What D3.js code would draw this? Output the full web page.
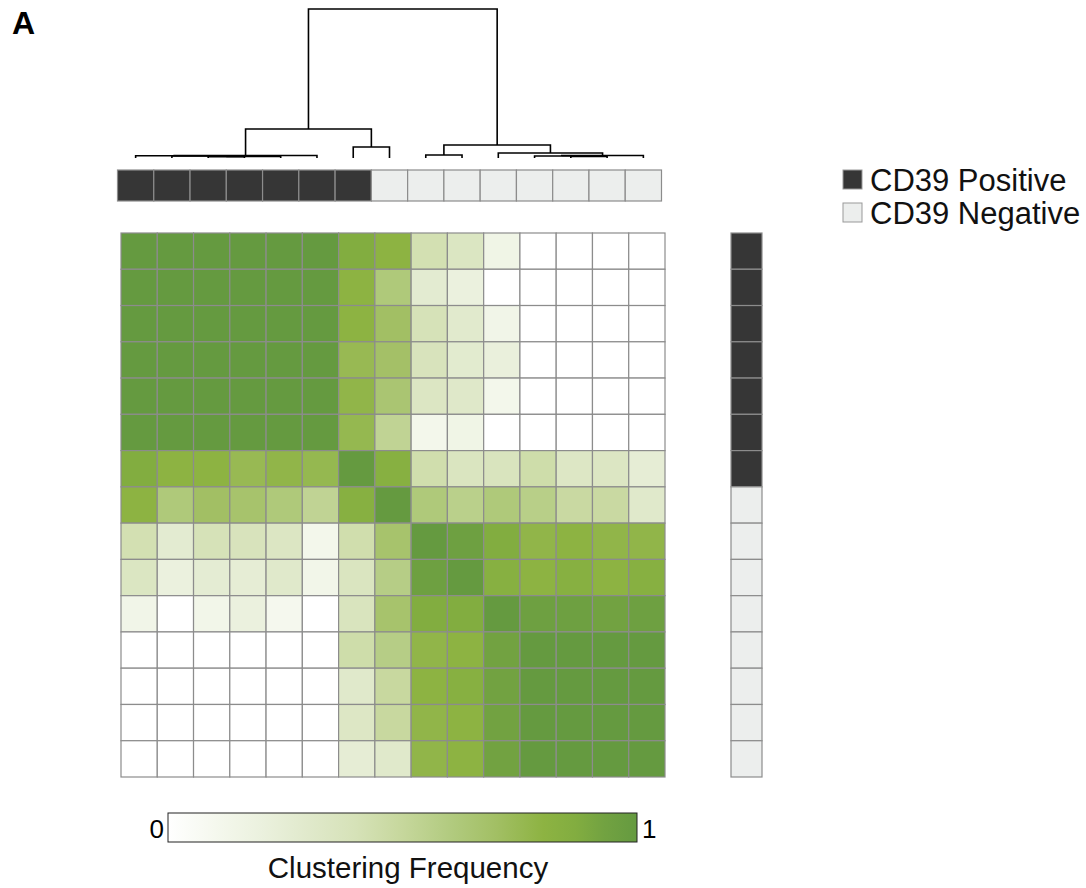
<!DOCTYPE html>
<meta charset="utf-8">
<style>
body { margin: 0; background: #fff; font-family: "Liberation Sans", Arial, Helvetica, sans-serif; }
.cell { stroke: #8c8c8c; stroke-width: 1.2; }
.link { fill: none; stroke: #000; stroke-width: 1.6; }
.lbl { font-size: 29.5px; fill: #111; }
.leg-lbl { font-size: 31px; fill: #111; }
</style>
<body>
<script src="https://cdnjs.cloudflare.com/ajax/libs/d3/7.8.5/d3.min.js"></script>
<script>

// samples, in dendrogram order
var samples = d3.range(15);
// CD39 status for each sample (same order)
var cd39 = ["pos","pos","pos","pos","pos","pos","pos","neg","neg","neg","neg","neg","neg","neg","neg"];
var statusLabels = {pos: "CD39 Positive", neg: "CD39 Negative"};

// consensus matrix (clustering frequency), rows top to bottom
var freq = [
  [1.00,1.00,1.00,1.00,1.00,1.00,0.87,0.80,0.42,0.35,0.15,0.00,0.00,0.00,0.00],
  [1.00,1.00,1.00,1.00,1.00,1.00,0.80,0.62,0.27,0.20,0.00,0.00,0.00,0.00,0.00],
  [1.00,1.00,1.00,1.00,1.00,1.00,0.80,0.70,0.40,0.29,0.14,0.00,0.00,0.00,0.00],
  [1.00,1.00,1.00,1.00,1.00,1.00,0.75,0.69,0.38,0.28,0.21,0.00,0.00,0.00,0.00],
  [1.00,1.00,1.00,1.00,1.00,1.00,0.78,0.65,0.34,0.31,0.12,0.00,0.00,0.00,0.00],
  [1.00,1.00,1.00,1.00,1.00,1.00,0.76,0.53,0.12,0.15,0.00,0.00,0.00,0.00,0.00],
  [0.87,0.80,0.80,0.75,0.78,0.76,1.00,0.84,0.44,0.36,0.37,0.45,0.33,0.34,0.25],
  [0.80,0.62,0.70,0.67,0.62,0.53,0.84,1.00,0.62,0.56,0.62,0.57,0.48,0.48,0.30],
  [0.42,0.27,0.40,0.38,0.34,0.12,0.44,0.67,1.00,0.95,0.87,0.78,0.80,0.78,0.78],
  [0.35,0.20,0.26,0.25,0.30,0.13,0.36,0.58,0.95,1.00,0.84,0.80,0.84,0.80,0.84],
  [0.14,0.00,0.13,0.20,0.10,0.00,0.37,0.67,0.87,0.87,1.00,0.95,0.95,0.93,0.95],
  [0.00,0.00,0.00,0.00,0.00,0.00,0.45,0.58,0.78,0.80,0.93,1.00,1.00,1.00,1.00],
  [0.00,0.00,0.00,0.00,0.00,0.00,0.30,0.49,0.80,0.84,0.93,1.00,1.00,1.00,1.00],
  [0.00,0.00,0.00,0.00,0.00,0.00,0.33,0.49,0.78,0.80,0.93,1.00,1.00,1.00,1.00],
  [0.00,0.00,0.00,0.00,0.00,0.00,0.25,0.30,0.78,0.80,0.93,1.00,1.00,1.00,1.00]
];

// linkage: [left, right, height]; ids >= 15 are earlier merges (15 + index)
var merges = [
  [2, 3, 0.009],
  [15, 4, 0.011],
  [1, 16, 0.013],
  [0, 17, 0.015],
  [18, 5, 0.017],
  [6, 7, 0.074],
  [19, 20, 0.195],
  [8, 9, 0.020],
  [12, 13, 0.010],
  [11, 23, 0.013],
  [24, 14, 0.017],
  [10, 25, 0.034],
  [22, 26, 0.087],
  [21, 27, 1.000]
];

// colour stops for clustering frequency
var colorStops = [0, 0.1, 0.2, 0.3, 0.4, 0.5, 0.6, 0.7, 0.8, 0.87, 0.93, 1];
var colorVals = ["#ffffff","#f5f8ee","#ebf1de","#e0e9cb","#d6e2b8","#c6d79c","#b2cb80","#a2bf64","#8db342","#82ad40","#72a241","#659a40"];
var legendTicks = [0, 1];

var W = 1086, H = 888;

var svg = d3.select("body").append("svg")
    .attr("width", W)
    .attr("height", H);

var color = d3.scaleLinear().domain(colorStops).range(colorVals).interpolate(d3.interpolateRgb);
var statusColor = d3.scaleOrdinal().domain(["pos","neg"]).range(["#363636","#eceeed"]);

// heatmap scales
var x = d3.scaleBand().domain(samples).range([121, 665]);
var y = d3.scaleBand().domain(samples).range([233, 777]);
// the top annotation bar sits a little to the left
var xTop = d3.scaleBand().domain(samples).range([117.5, 661.5]);
var hY = d3.scaleLinear().domain([0, 1]).range([158, 9]);

// heatmap cells
var rows = svg.append("g").selectAll("g")
    .data(freq)
    .join("g");
rows.selectAll("rect")
    .data(function(d, i) { return d.map(function(v, j) { return {r: i, c: j, v: v}; }); })
    .join("rect")
    .attr("class", "cell")
    .attr("x", function(d) { return x(d.c); })
    .attr("y", function(d) { return y(d.r); })
    .attr("width", x.bandwidth())
    .attr("height", y.bandwidth())
    .attr("fill", function(d) { return color(d.v); });

// top annotation bar
svg.append("g").selectAll("rect")
    .data(samples)
    .join("rect")
    .attr("class", "cell")
    .attr("x", function(d) { return xTop(d); })
    .attr("y", 170)
    .attr("width", xTop.bandwidth())
    .attr("height", 31)
    .attr("fill", function(d) { return statusColor(cd39[d]); });

// right annotation bar
svg.append("g").selectAll("rect")
    .data(samples)
    .join("rect")
    .attr("class", "cell")
    .attr("x", 731)
    .attr("y", function(d) { return y(d); })
    .attr("width", 31)
    .attr("height", y.bandwidth())
    .attr("fill", function(d) { return statusColor(cd39[d]); });

// dendrogram
var nodes = samples.map(function(d) { return {x: xTop(d) + xTop.bandwidth() / 2, h: 0}; });
var links = [];
merges.forEach(function(m) {
    var a = nodes[m[0]], b = nodes[m[1]];
    nodes.push({x: (a.x + b.x) / 2, h: m[2]});
    links.push("M" + a.x + "," + hY(a.h) + "V" + hY(m[2]) + "H" + b.x + "V" + hY(b.h));
});
svg.append("g").selectAll("path")
    .data(links)
    .join("path")
    .attr("class", "link")
    .attr("d", function(d) { return d; });

// status legend
var leg = svg.append("g").selectAll("g")
    .data(["pos","neg"])
    .join("g")
    .attr("transform", function(d, i) { return "translate(843," + (170 + i * 33) + ")"; });
leg.append("rect")
    .attr("width", 19).attr("height", 19)
    .attr("fill", function(d) { return statusColor(d); })
    .attr("stroke", "#999").attr("stroke-width", 1);
leg.append("text")
    .attr("class", "leg-lbl")
    .attr("x", 27).attr("y", 21)
    .text(function(d) { return statusLabels[d]; });

// colour bar
var defs = svg.append("defs");
var grad = defs.append("linearGradient").attr("id", "grad");
grad.selectAll("stop")
    .data(colorStops)
    .join("stop")
    .attr("offset", function(d) { return d * 100 + "%"; })
    .attr("stop-color", function(d) { return color(d); });

var lx = d3.scaleLinear().domain([0, 1]).range([168, 637]);
svg.append("rect")
    .attr("x", lx(0)).attr("y", 813)
    .attr("width", lx(1) - lx(0)).attr("height", 29)
    .attr("fill", "url(#grad)")
    .attr("stroke", "#222").attr("stroke-width", 1);

svg.selectAll(".tick-lbl")
    .data(legendTicks)
    .join("text")
    .attr("class", "tick-lbl")
    .style("font-size", "26px")
    .attr("x", function(d) { return d === 0 ? lx(d) - 4 : lx(d) + 5; })
    .attr("y", 838)
    .attr("text-anchor", function(d) { return d === 0 ? "end" : "start"; })
    .text(function(d) { return d; });

svg.append("text")
    .attr("class", "lbl")
    .attr("x", 408).attr("y", 878)
    .attr("text-anchor", "middle")
    .text("Clustering Frequency");

svg.append("text")
    .attr("x", 12).attr("y", 34)
    .style("font-size", "32px").style("font-weight", "bold")
    .text("A");

</script>
</body>
